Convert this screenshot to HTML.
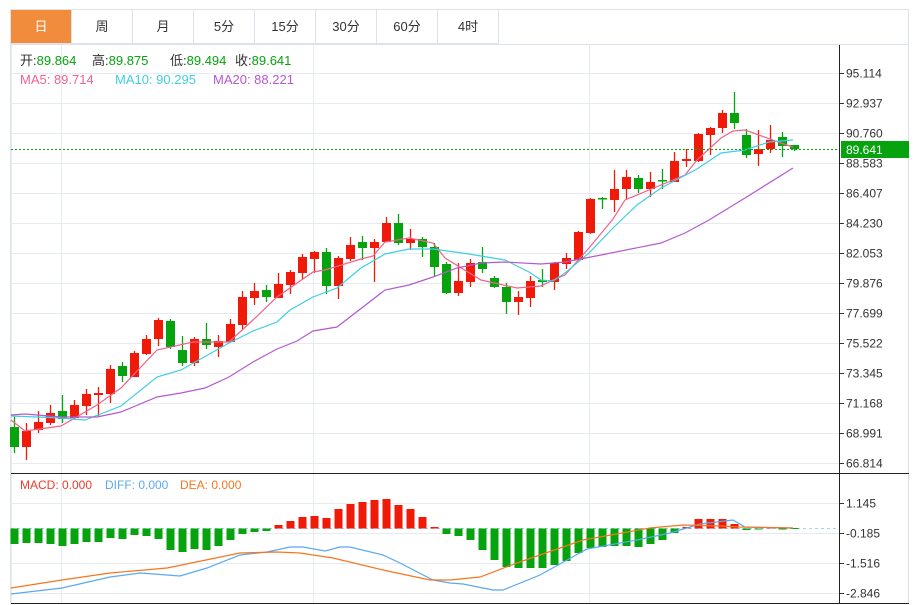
<!DOCTYPE html>
<html><head><meta charset="utf-8"><style>
body{margin:0;background:#fff;width:922px;height:605px;overflow:hidden;font-family:"Liberation Sans","Noto Sans CJK SC",sans-serif}
svg{position:absolute;left:0;top:0}
</style></head><body>
<svg id="s" width="922" height="605" xmlns="http://www.w3.org/2000/svg" font-family="Liberation Sans, Noto Sans CJK SC, sans-serif"></svg>
<script>
var o=[];
function L(x1,y1,x2,y2,c,w,d){o.push('<line x1="'+x1+'" y1="'+y1+'" x2="'+x2+'" y2="'+y2+'" stroke="'+c+'" stroke-width="'+(w||1)+'"'+(d?' stroke-dasharray="'+d+'"':'')+'/>');}
function R(x,y,w,h,c,s){o.push('<rect x="'+x+'" y="'+y+'" width="'+w+'" height="'+h+'" fill="'+c+'"'+(s?' stroke="'+s+'"':'')+'/>');}
function T(x,y,t,c,sz,a){o.push('<text x="'+x+'" y="'+y+'" fill="'+c+'" font-size="'+(sz||12)+'"'+(a?' text-anchor="'+a+'"':'')+'>'+t+'</text>');}
function P(pts,c){o.push('<polyline fill="none" stroke="'+c+'" stroke-width="1.2" points="'+pts.map(p=>p.join(',')).join(' ')+'"/>');}
R(10.5,9.5,898,594,'#fff','#dde3ea');
var tabs=['日','周','月','5分','15分','30分','60分','4时'];
for(var i=0;i<tabs.length;i++){var x=10+i*61;R(x+.5,9.5,61,34,i==0?'#f08c3c':'#fff','#dde3ea');T(x+31,31,tabs[i],i==0?'#fff':'#333',13,'middle');}
L(10,44.5,909,44.5,'#dde3ea');
var pl=['95.114','92.937','90.760','88.583','86.407','84.230','82.053','79.876','77.699','75.522','73.345','71.168','68.991','66.814'];
for(i=0;i<14;i++){var y=73+i*30+.5;L(11,y,839,y,'#e6ebf0');L(839,y,844,y,'#333');T(846,y+4,pl[i],'#333',12);}
var ml=['1.145','-0.185','-1.516','-2.846'];
for(i=0;i<4;i++){var y=503+i*30+.5;L(11,y,839,y,'#e6ebf0');L(839,y,844,y,'#333');T(846,y+4,ml[i],'#333',12);}
[61.5,313.5,589.5].forEach(x=>L(x,45,x,603,'#e6ebf0'));
L(11.5,45,11.5,603,'#e6ebf0');
L(11,473.5,909,473.5,'#222');L(11,603.5,909,603.5,'#222');L(839.5,45,839.5,604,'#222');
var c=[[427,447,417,453,0],[431,447,423,460,1],[422,430,411,433,1],[413,423,405,425,1],[411,419,395,423,0],[405,418,400,420,1],[394,406,389,415,1],[393,395,387,417,1],[369,394,365,403,1],[366,376,362,382,0],[353,377,351,377,1],[339,354,335,355,1],[320,339,318,346,1],[321,347,319,349,0],[350,363,336,366,0],[339,363,337,366,1],[339,345,323,349,0],[341,347,335,357,1],[324,342,319,342,1],[297,325,291,330,1],[291,298,283,305,1],[290,297,285,302,0],[284,298,273,298,1],[272,285,270,294,1],[257,273,254,279,1],[252,259,251,273,1],[252,286,248,294,0],[258,286,256,299,1],[245,259,237,261,1],[242,248,236,260,0],[242,248,239,282,1],[223,242,217,242,1],[223,243,214,245,0],[239,243,229,250,1],[239,247,237,257,0],[247,267,243,276,0],[264,293,262,294,0],[281,293,263,296,1],[263,282,259,287,1],[262,269,247,273,0],[278,287,276,288,0],[287,302,283,314,0],[297,302,291,315,1],[281,298,276,307,1],[280,282,269,287,0],[263,282,262,290,1],[258,264,253,269,1],[232,260,231,261,1],[199,233,198,234,1],[198,199,197,209,0],[189,200,170,212,1],[177,189,170,199,1],[178,189,175,193,0],[182,189,172,197,1],[180,181,169,189,0],[161,182,152,182,1],[159,161,149,167,1],[134,161,133,162,1],[128,135,127,155,1],[113,128,110,133,1],[113,123,92,129,0],[135,155,129,158,0],[149,154,130,166,1],[140,149,125,153,1],[137,146,132,157,0],[145,149,145,151,0]];
c.forEach((d,i)=>{var x=14.5+i*12,col=d[4]?'#f01a08':'#06a30f';L(x,d[2],x,d[3],col,1.3);R(x-4.5,d[0],9,Math.max(d[1]-d[0],1.5),col);});
P([[11,420],[25,431],[61,426],[97,405],[121,388],[157,350],[193,342],[229,342],[253,320],[277,297],[313,272],[325,270],[361,259],[373,256],[385,242],[409,238],[433,243],[445,258],[481,280],[517,288],[541,286],[553,280],[565,275],[589,248],[613,219],[625,200],[649,190],[685,175],[697,160],[721,138],[733,131],[745,130],[781,143],[793,147]],'#f2628c');
P([[11,416],[61,418],[85,420],[121,406],[157,377],[181,370],[229,343],[253,331],[277,322],[290,310],[313,297],[337,288],[361,268],[385,254],[409,249],[433,249],[469,254],[505,260],[529,272],[541,280],[553,281],[565,273],[589,253],[613,228],[637,205],[661,188],[697,169],[721,153],[745,150],[769,142],[793,140]],'#3fcfe2');
P([[11,415],[25,414],[61,417],[97,417],[121,412],[157,397],[181,393],[205,388],[229,377],[253,362],[277,349],[297,341],[313,331],[337,327],[385,290],[409,285],[433,277],[457,268],[481,263],[505,262],[541,264],[565,262],[601,255],[661,243],[685,233],[709,220],[745,198],[793,168]],'#b45ad0');
L(11,149.5,839,149.5,'#06a30f',1,'2,2');
R(841,141,68,17,'#06a30f');T(846,154,'89.641','#fff',12);
L(11,528.5,839,528.5,'#9fd6f0',1,'3,3');
var m=[544,543,543,544,546,544,542,542,538,539,535,536,539,550,552,549,550,546,540,534,532,531,525,521,517,516,518,509,504,502,500,499,505,509,517,527,534,536,540,550,560,567,568,568,568,565,561,553,548,547,546,546,547,544,540,533,527,519,519,519,524,530,529,527,529,528];
m.forEach((v,i)=>{var x=14.5+i*12,col=v<528?'#f01a08':'#06a30f';var y=Math.min(v,528.5),h=Math.abs(v-528.5);if(h<1)h=1;R(x-4,y,8,h,col);});
P([[11,594],[62,588],[110,577],[140,573],[167,575],[180,576],[207,568],[240,555],[267,552],[290,547],[303,547],[325,551],[340,547],[350,547],[383,555],[400,563],[433,580],[450,583],[463,584],[493,590],[503,590],[540,575],[587,549],[637,540],[670,533],[700,524],[733,520],[745,527],[793,528]],'#5aa9f0');
P([[11,588],[62,580],[110,573],[167,568],[240,553],[277,552],[300,553],[333,558],[383,570],[430,580],[450,580],[480,577],[517,563],[583,540],[650,528],[683,525],[720,526],[740,527],[793,528]],'#f5761e');
o.push('<text x="20" y="65" font-size="13" fill="#333">开:<tspan fill="#06a30f">89.864</tspan></text>');
o.push('<text x="92" y="65" font-size="13" fill="#333">高:<tspan fill="#06a30f">89.875</tspan></text>');
o.push('<text x="170" y="65" font-size="13" fill="#333">低:<tspan fill="#06a30f">89.494</tspan></text>');
o.push('<text x="235" y="65" font-size="13" fill="#333">收:<tspan fill="#06a30f">89.641</tspan></text>');
T(20,84,'MA5: 89.714','#f2628c',13);T(115,84,'MA10: 90.295','#3fcfe2',13);T(213,84,'MA20: 88.221','#b45ad0',13);
T(20,489,'MACD: 0.000','#f03a2a',12);T(105,489,'DIFF: 0.000','#5aa9f0',12);T(180,489,'DEA: 0.000','#f5761e',12);
document.getElementById('s').innerHTML=o.join('');
</script>
</body></html>
